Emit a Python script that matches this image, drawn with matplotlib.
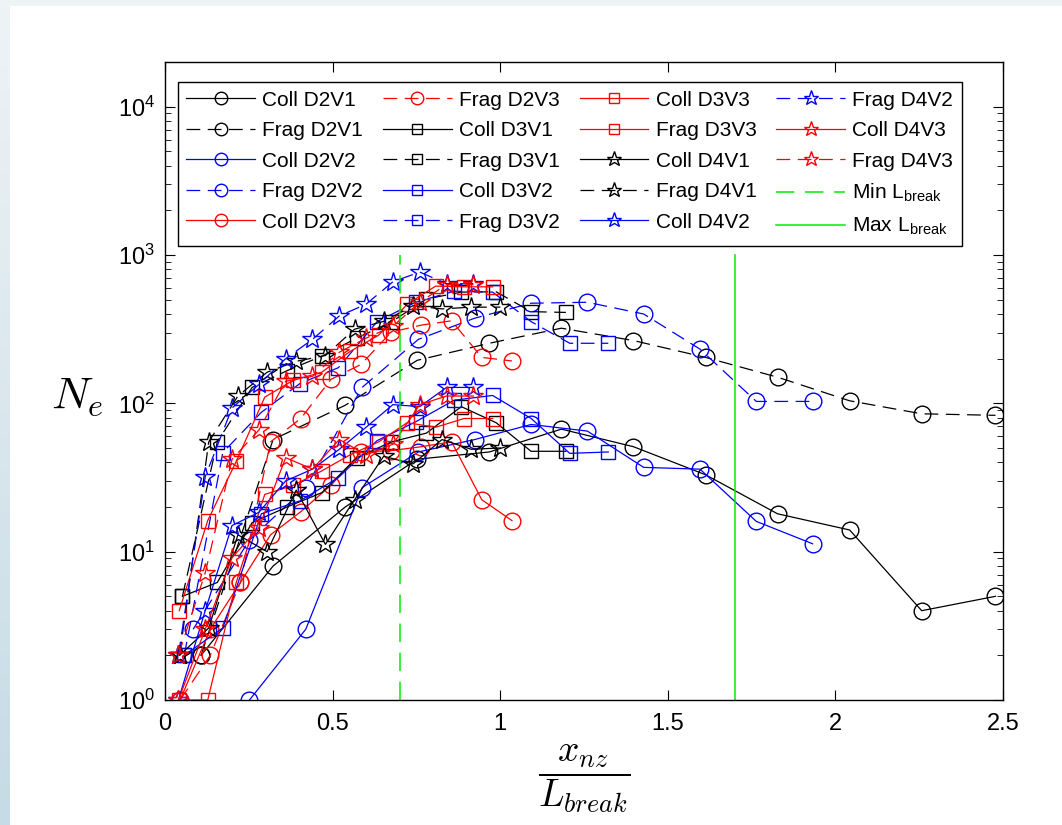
import numpy as np
import matplotlib
matplotlib.use("Agg")
import matplotlib.pyplot as plt
from matplotlib.patches import Rectangle
from matplotlib.colors import LinearSegmentedColormap

plt.rcParams['font.family'] = ['Liberation Sans', 'DejaVu Sans']
plt.rcParams['mathtext.fontset'] = 'custom'
plt.rcParams['mathtext.rm'] = 'Liberation Sans'
plt.rcParams['mathtext.it'] = 'Liberation Sans:italic'

# x positions (x_nz / L_break) per case
x_d2v1 = [0.1075, 0.3225, 0.5375, 0.7525, 0.9675, 1.1825, 1.3975, 1.6125, 1.8275, 2.0425, 2.2575, 2.4775]
x_d2v2 = [0.084, 0.252, 0.42, 0.588, 0.756, 0.924, 1.092, 1.26, 1.428, 1.596, 1.764, 1.932]
x_d2v2_coll = [0.252, 0.42, 0.588, 0.756, 0.924, 1.092, 1.26, 1.428, 1.596, 1.764, 1.932]
x_d2v3 = [0.045, 0.135, 0.225, 0.315, 0.405, 0.495, 0.585, 0.675, 0.765, 0.855, 0.945, 1.035]
x_d3v1 = [0.052, 0.156, 0.26, 0.364, 0.468, 0.572, 0.676, 0.78, 0.884, 0.988, 1.092, 1.196]
x_d3v2 = [0.0575, 0.1725, 0.2875, 0.4025, 0.5175, 0.6325, 0.7475, 0.8625, 0.9775, 1.0925, 1.2075, 1.3225]
x_d3v3 = [0.0425, 0.1275, 0.2125, 0.2975, 0.3825, 0.4675, 0.5525, 0.6375, 0.7225, 0.8075, 0.8925, 0.9775]
x_d4v1 = [0.0435, 0.1305, 0.2175, 0.3045, 0.3915, 0.4785, 0.5655, 0.6525, 0.7395, 0.8265, 0.9135, 1.0005]
x_d4v2 = [0.04, 0.12, 0.2, 0.28, 0.36, 0.44, 0.52, 0.6, 0.68, 0.76, 0.84, 0.92]
x_d4v3 = [0.04, 0.12, 0.2, 0.28, 0.36, 0.44, 0.52, 0.6, 0.68, 0.76, 0.84, 0.92]

# N_e values
coll_d2v1 = [2, 8, 20, 42, 47, 67, 51, 33, 18, 14, 4, 5]
frag_d2v1 = [2, 57, 97, 195, 254, 321, 265, 204, 150, 104, 85, 83]
coll_d2v2 = [1, 3, 27, 47, 57, 72, 65, 37, 36, 16, 11.3]
frag_d2v2 = [3, 12, 27, 128, 270, 375, 473, 480, 400, 232, 103, 103]
coll_d2v3 = [1, 3, 6.2, 13, 18.6, 28, 47, 48, 51, 55, 22.4, 16.2]
frag_d2v3 = [1, 2, 6.2, 55, 79, 145, 183, 302, 337, 360, 204, 193]
coll_d3v1 = [5, 6.2, 15.7, 20, 25, 43, 55, 63, 95, 74, 47.5, 47.5]
frag_d3v1 = [5, 55, 128, 166, 208, 275, 355, 505, 562, 565, 415, 410]
coll_d3v2 = [2, 3.06, 18, 22, 31.6, 56, 75, 105, 113, 79, 46, 47]
frag_d3v2 = [2, 46.6, 87, 136, 174, 355, 480, 570, 562, 355, 254, 254]
coll_d3v3 = [1, 1, 6.2, 24.3, 28, 35, 45, 55, 74, 69, 79, 79]
frag_d3v3 = [4, 16.2, 40.6, 110, 143, 162, 224, 288, 466, 617, 610, 610]
coll_d4v1 = [2, 3.06, 13, 10, 26, 11.2, 22.4, 44, 39, 57, 49, 50]
frag_d4v1 = [2, 55, 112, 162, 192, 210, 316, 357, 455, 433, 445, 445]
coll_d4v2 = [1, 4, 15, 18.4, 30, 36, 49, 69, 98, 95, 128, 128]
frag_d4v2 = [2, 32, 93, 134, 200, 270, 388, 466, 660, 767, 640, 640]
coll_d4v3 = [1, 3, 9.1, 14.5, 43, 36, 57, 45, 53, 98, 112, 112]
frag_d4v3 = [2, 7.2, 42, 66, 141, 152, 221, 275, 331, 480, 632, 632]

l_break_min = 0.7
l_break_max = 1.7

# (label, x, y, color, marker, dashed)
series = [
    ('Coll D2V1', x_d2v1, coll_d2v1, 'k', 'o', False),
    ('Frag D2V1', x_d2v1, frag_d2v1, 'k', 'o', True),
    ('Coll D2V2', x_d2v2_coll, coll_d2v2, 'b', 'o', False),
    ('Frag D2V2', x_d2v2, frag_d2v2, 'b', 'o', True),
    ('Coll D2V3', x_d2v3, coll_d2v3, 'r', 'o', False),
    ('Frag D2V3', x_d2v3, frag_d2v3, 'r', 'o', True),
    ('Coll D3V1', x_d3v1, coll_d3v1, 'k', 's', False),
    ('Frag D3V1', x_d3v1, frag_d3v1, 'k', 's', True),
    ('Coll D3V2', x_d3v2, coll_d3v2, 'b', 's', False),
    ('Frag D3V2', x_d3v2, frag_d3v2, 'b', 's', True),
    ('Coll D3V3', x_d3v3, coll_d3v3, 'r', 's', False),
    ('Frag D3V3', x_d3v3, frag_d3v3, 'r', 's', False),
    ('Coll D4V1', x_d4v1, coll_d4v1, 'k', '*', False),
    ('Frag D4V1', x_d4v1, frag_d4v1, 'k', '*', True),
    ('Coll D4V2', x_d4v2, coll_d4v2, 'b', '*', False),
    ('Frag D4V2', x_d4v2, frag_d4v2, 'b', '*', True),
    ('Coll D4V3', x_d4v3, coll_d4v3, 'r', '*', False),
    ('Frag D4V3', x_d4v3, frag_d4v3, 'r', '*', True),
]
msize = {'o': 12, 's': 10, '*': 15}

fig = plt.figure(figsize=(10.62, 8.25), dpi=100)
fig.patch.set_facecolor('#eef3f6')
fig.add_artist(Rectangle((10 / 1062, 0), 1, (825 - 6) / 825, transform=fig.transFigure,
                         facecolor='white', edgecolor='none', zorder=-10))
# light blue fade on the left edge
bg = fig.add_axes([0, 0, 10 / 1062, 1], zorder=-20)
cmap = LinearSegmentedColormap.from_list('bg', ['#eef3f6', '#c6dbe5'])
bg.imshow(np.linspace(0, 1, 100)[:, None], aspect='auto', cmap=cmap)
bg.axis('off')

ax = fig.add_axes([165 / 1062, 125 / 825, 838 / 1062, 638 / 825])

for lab, xs, ys, c, m, dashed in series:
    kw = dict(color=c, marker=m, markersize=msize[m], markerfacecolor='none',
              markeredgecolor=c, markeredgewidth=1.0, linewidth=0.9, label=lab)
    if dashed:
        kw['dashes'] = (11, 6)
    ax.plot(xs, ys, **kw)

ax.plot([l_break_min, l_break_min], [1, 1000], color='#00ee00', lw=1.1, dashes=(12, 7),
        label='Min L$_{\\rm break}$')
ax.plot([l_break_max, l_break_max], [1, 1000], color='#00ee00', lw=1.1,
        label='Max L$_{\\rm break}$')

ax.set_yscale('log')
ax.set_xlim(0, 2.5)
ax.set_ylim(1, 2e4)
ax.set_xticks([0, 0.5, 1, 1.5, 2, 2.5])
ax.set_xticklabels(['0', '0.5', '1', '1.5', '2', '2.5'])
ax.tick_params(which='both', direction='in', top=True, right=True, labelsize=17)
ax.tick_params(which='major', length=7, width=0.8)
ax.tick_params(which='minor', length=4, width=0.6)
ax.tick_params(axis='x', pad=9)
ax.tick_params(axis='y', pad=7)
for sp in ax.spines.values():
    sp.set_linewidth(1.0)

ax.set_xlabel(r'$\dfrac{x_{nz}}{L_{break}}$', fontsize=27, math_fontfamily='cm', labelpad=6)
ax.set_ylabel(r'$N_e$', fontsize=33, math_fontfamily='cm', rotation=0, labelpad=38,
              va='center')
ax.yaxis.set_label_coords(-0.105, 0.475)

leg = ax.legend(ncol=4, loc='upper left', bbox_to_anchor=(0.0155, 0.968), fontsize=15,
                frameon=True, fancybox=False, edgecolor='k', framealpha=1,
                borderaxespad=0, handlelength=3.3, handletextpad=0.35, columnspacing=0.95,
                labelspacing=0.55, borderpad=0.4, markerscale=0.75)
leg.get_frame().set_linewidth(1.0)

fig.savefig('out.png', dpi=100, facecolor=fig.get_facecolor())
